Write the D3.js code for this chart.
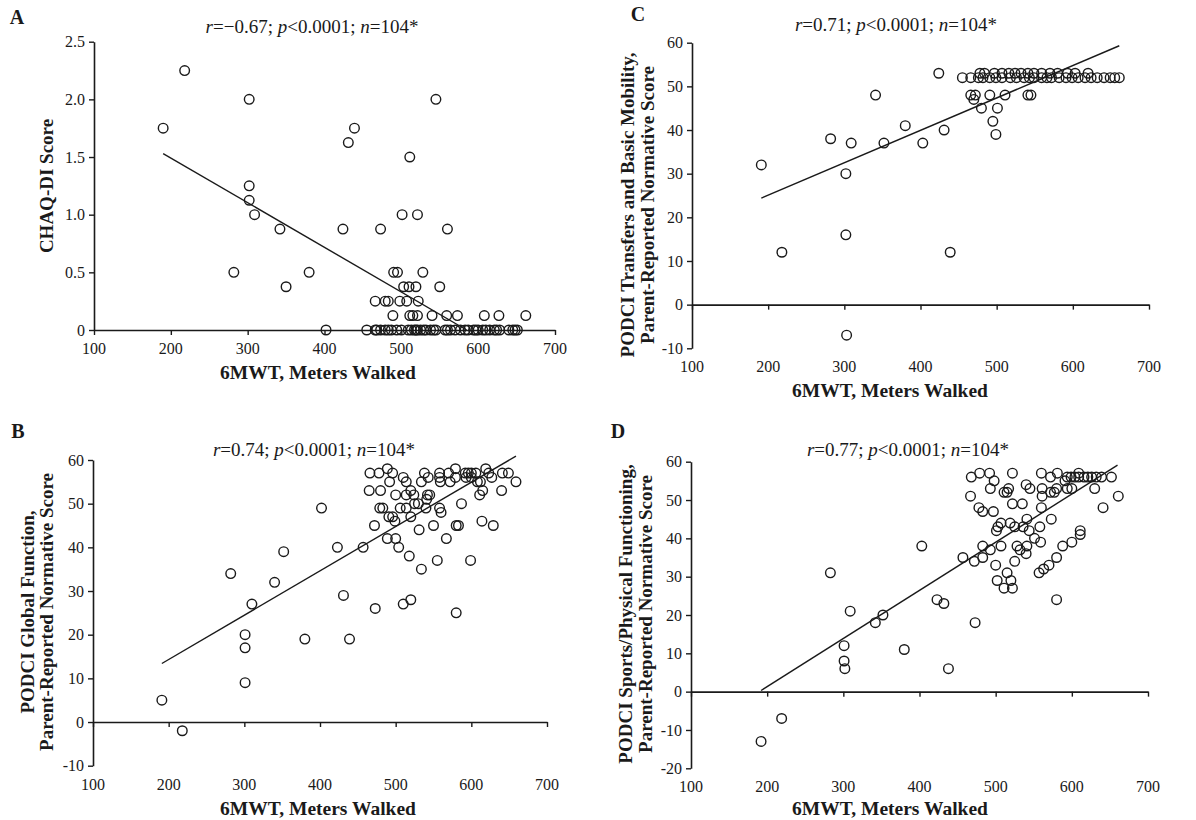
<!DOCTYPE html>
<html><head><meta charset="utf-8">
<script src="https://cdn.jsdelivr.net/npm/d3@7"></script>
<style>body{margin:0;background:#fff}svg{display:block}</style>
</head><body>
<svg id="chart" width="1196" height="820"></svg>
<script>
// ---------- DATA ----------
const xTicks = [100, 200, 300, 400, 500, 600, 700];

// Panel A: CHAQ-DI Score
const aWalk = [190,218,302,302,302,309,282,342,350,380,402,424,431,439,473,501,511,521,545,560,
  490,495,528,
  503,510,519,550,
  466,479,483,498,507,522,
  489,511,515,521,540,559,573,608,627,662,
  455,466,473,479,487,494,500,513,517,521,525,532,538,542,557,564,570,577,587,594,600,606,615,621,628,640,645,651,
  468,483,509,519,529,545,560,583,597,610,624,648];
const aScore = [1.75,2.25,2.0,1.25,1.125,1.0,0.5,0.875,0.375,0.5,0,0.875,1.625,1.75,0.875,1.0,1.5,1.0,2.0,0.875,
  0.5,0.5,0.5,
  0.375,0.375,0.375,0.375,
  0.25,0.25,0.25,0.25,0.25,0.25,
  0.125,0.125,0.125,0.125,0.125,0.125,0.125,0.125,0.125,0.125,
  0,0,0,0,0,0,0,0,0,0,0,0,0,0,0,0,0,0,0,0,0,0,0,0,0,0,0,0,
  0,0,0,0,0,0,0,0,0,0,0,0];
const aTrend = [[190, 1.53], [585, 0]];
const aYTicks = [0, 0.5, 1.0, 1.5, 2.0, 2.5];

// Panel B: PODCI Global Function
const bWalk = [191,218,282,301,301,301,310,340,352,380,402,423,431,439,457,473,510,520,580,518,534,555,599,504,489,500,531,550,567,580,583,614,629,472,587,491,496,499,520,560,479,483,506,514,540,558,500,514,520,524,525,530,542,545,541,611,615,640,465,480,492,466,478,489,496,510,514,538,534,543,558,559,558,570,572,579,579,592,596,600,606,593,608,619,623,627,641,649,659,600,612];
const bScore = [5,-2,34,20,17,9,27,32,39,19,49,40,29,19,40,26,27,28,25,38,35,37,37,40,42,42,44,45,42,45,45,46,45,45,50,47,47,46,47,48,49,49,49,49,49,49,52,52,53,52,50,50,52,52,51,52,53,53,53,53,55,57,57,58,57,56,55,57,55,56,57,55,56,57,55,58,56,57,57,57,57,56,55,58,57,56,57,57,55,56,55];
const bTrend = [[191, 13.4], [659, 60.9]];
const bYTicks = [-10, 0, 10, 20, 30, 40, 50, 60];

// Panel C: PODCI Transfers and Basic Mobility
const cWalk = [191,218,282,302,302,303,309,341,352,380,403,424,431,439,
  466,472,491,511,541,545,470,
  480,501,495,499,
  455,466,476,482,491,499,507,518,526,536,543,549,559,566,572,582,591,599,607,616,624,632,641,649,655,661,
  478,484,497,507,516,524,532,541,549,559,570,580,593,603,620];
const cScore = [32,12,38,30,16,-7,37,48,37,41,37,53,40,12,
  48,48,48,48,48,48,47,
  45,45,42,39,
  52,52,52,52,52,52,52,52,52,52,52,52,52,52,52,52,52,52,52,52,52,52,52,52,52,52,
  53,53,53,53,53,53,53,53,53,53,53,53,53,53,53];
const cTrend = [[191, 24.4], [661, 59.3]];
const cYTicks = [-10, 0, 10, 20, 30, 40, 50, 60];

// Panel D: PODCI Sports/Physical Functioning
const dWalk = [192,219,283,301,301,302,309,342,352,380,403,423,432,438,473,457,472,483,483,493,500,502,507,511,515,520,522,525,528,532,540,541,551,559,557,563,570,580,580,588,600,611,611,501,503,507,519,525,536,541,544,573,558,497,478,483,467,511,515,517,522,535,493,540,545,560,561,561,572,577,580,594,600,630,641,661,468,479,492,498,522,560,572,581,594,599,604,609,616,621,609,626,632,639,652,591];
const dScore = [-13,-7,31,12,8,6,21,18,20,11,38,24,23,6,18,35,34,35,38,37,33,29,38,27,31,29,27,34,38,37,36,38,40,39,31,32,33,35,24,38,39,42,41,42,43,44,44,43,43,45,42,45,43,47,48,47,51,52,52,53,49,49,53,54,53,48,51,53,52,52,53,53,53,53,48,51,56,57,57,55,57,57,56,57,56,56,56,56,56,56,57,56,56,56,56,55];
const dTrend = [[192, 0.3], [660, 59.1]];
const dYTicks = [-20, -10, 0, 10, 20, 30, 40, 50, 60];

const rValues = ["\u22120.67", "0.74", "0.71", "0.77"];
const panelLetters = ["A", "B", "C", "D"];
const yTitles = [["CHAQ-DI Score"],
  ["PODCI Global Function,", "Parent-Reported Normative Score"],
  ["PODCI Transfers and Basic Mobility,", "Parent-Reported Normative Score"],
  ["PODCI Sports/Physical Functioning,", "Parent-Reported Normative Score"]];
const xTitle = "6MWT, Meters Walked";

// ---------- LAYOUT ----------
const panels = [
  {walk:aWalk, score:aScore, trend:aTrend, yTicks:aYTicks, fmt:d => d === 0 ? "0" : d.toFixed(1),
   left:94, right:555, top:41.7, bottom:330, letter:[17,24], title:[312,33], ytx:[46], yty:186, xt:[318,372]},
  {walk:bWalk, score:bScore, trend:bTrend, yTicks:bYTicks, fmt:d => String(d),
   left:93, right:547, top:460, bottom:765.7, letter:[18,438], title:[314,456], ytx:[27,46], yty:612, xt:[318,808]},
  {walk:cWalk, score:cScore, trend:cTrend, yTicks:cYTicks, fmt:d => String(d),
   left:692, right:1149, top:42.7, bottom:348.3, letter:[638,21], title:[896,31], ytx:[627,647], yty:205, xt:[890,390]},
  {walk:dWalk, score:dScore, trend:dTrend, yTicks:dYTicks, fmt:d => String(d),
   left:691, right:1148, top:461.7, bottom:768.3, letter:[618,438], title:[908,456], ytx:[625,645], yty:614, xt:[890,808]}
];

const svg = d3.select("#chart");
svg.append("rect").attr("width",1196).attr("height",820).attr("fill","#fff");
const FONT = "'Liberation Serif','Times New Roman',serif";
const INK = "#1a1a1a";

panels.forEach((p, i) => {
  const yMin = d3.min(p.yTicks), yMax = d3.max(p.yTicks);
  const x = d3.scaleLinear().domain([100, 700]).range([p.left, p.right]);
  const y = d3.scaleLinear().domain([yMin, yMax]).range([p.bottom, p.top]);
  const g = svg.append("g");

  const ya = g.append("g").attr("transform", `translate(${p.left},0)`)
    .call(d3.axisLeft(y).tickValues(p.yTicks).tickSize(5).tickSizeOuter(0).tickPadding(4).tickFormat(p.fmt));
  const xa = g.append("g").attr("transform", `translate(0,${y(0)})`)
    .call(d3.axisBottom(x).tickValues(xTicks).tickSize(5).tickSizeOuter(0).tickFormat(""));
  [ya, xa].forEach(a => {
    a.select(".domain").attr("stroke", INK).attr("stroke-width", 1.6);
    a.selectAll(".tick line").attr("stroke", INK).attr("stroke-width", 1.4);
    a.selectAll("text").attr("font-family", FONT).attr("font-size", 16).attr("fill", INK);
  });
  g.selectAll("text.xl").data(xTicks).join("text").attr("class", "xl")
    .attr("x", d => x(d)).attr("y", p.bottom + 24)
    .attr("text-anchor", "middle").attr("font-family", FONT).attr("font-size", 16).attr("fill", INK)
    .text(d => d);

  g.append("path").datum(p.trend)
    .attr("d", d3.line().x(d => x(d[0])).y(d => y(d[1])))
    .attr("fill", "none").attr("stroke", INK).attr("stroke-width", 1.4);

  g.selectAll("circle").data(p.walk.map((w, k) => [w, p.score[k]])).join("circle")
    .attr("cx", d => x(d[0])).attr("cy", d => y(d[1])).attr("r", 4.8)
    .attr("fill", "none").attr("stroke", INK).attr("stroke-width", 1.4);

  g.append("text").attr("x", p.letter[0]).attr("y", p.letter[1]).attr("text-anchor", "middle")
    .attr("font-family", FONT).attr("font-weight", "bold").attr("font-size", 20).attr("fill", INK)
    .text(panelLetters[i]);

  const t = g.append("text").attr("x", p.title[0]).attr("y", p.title[1]).attr("text-anchor", "middle")
    .attr("font-family", FONT).attr("font-size", 19).attr("fill", INK);
  t.append("tspan").attr("font-style", "italic").text("r");
  t.append("tspan").text("=" + rValues[i] + "; ");
  t.append("tspan").attr("font-style", "italic").text("p");
  t.append("tspan").text("<0.0001; ");
  t.append("tspan").attr("font-style", "italic").text("n");
  t.append("tspan").text("=104*");

  yTitles[i].forEach((line, k) => {
    g.append("text").attr("transform", `translate(${p.ytx[k]},${p.yty}) rotate(-90)`)
      .attr("text-anchor", "middle").attr("dy", "0.35em")
      .attr("font-family", FONT).attr("font-weight", "bold").attr("font-size", 19).attr("fill", INK)
      .text(line);
  });

  g.append("text").attr("x", p.xt[0]).attr("y", p.xt[1]).attr("dy", "0.35em")
    .attr("text-anchor", "middle").attr("font-family", FONT).attr("font-weight", "bold")
    .attr("font-size", 19.5).attr("fill", INK).text(xTitle);
});
</script>
</body></html>
